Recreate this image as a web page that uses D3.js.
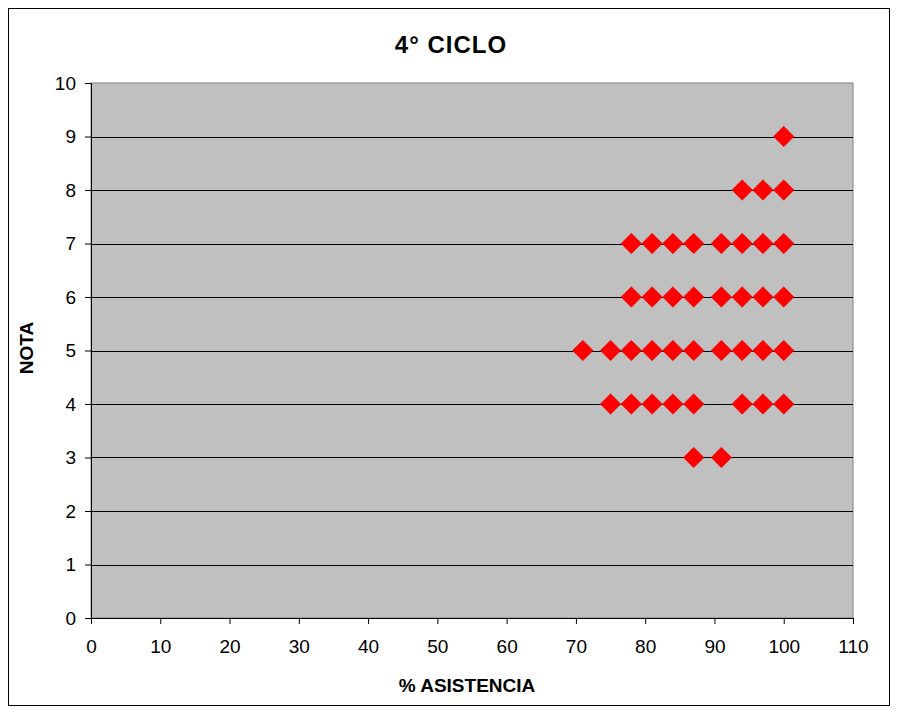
<!DOCTYPE html>
<html>
<head>
<meta charset="utf-8">
<script src="https://cdn.jsdelivr.net/npm/d3@7"></script>
<style>
  body { margin: 0; background: #fff; }
  text { font-family: Arial, "Liberation Sans", sans-serif; }
</style>
</head>
<body>
<script>
// datos: % asistencia y nota
const asistencia = [100, 94, 97, 100,
  78, 81, 84, 87, 91, 94, 97, 100,
  78, 81, 84, 87, 91, 94, 97, 100,
  71, 75, 78, 81, 84, 87, 91, 94, 97, 100,
  75, 78, 81, 84, 87, 94, 97, 100,
  87, 91];
const nota = [9, 8, 8, 8,
  7, 7, 7, 7, 7, 7, 7, 7,
  6, 6, 6, 6, 6, 6, 6, 6,
  5, 5, 5, 5, 5, 5, 5, 5, 5, 5,
  4, 4, 4, 4, 4, 4, 4, 4,
  3, 3];
const xTicks = [0, 10, 20, 30, 40, 50, 60, 70, 80, 90, 100, 110];
const yTicks = [0, 1, 2, 3, 4, 5, 6, 7, 8, 9, 10];

const width = 898, height = 709;
const plotL = 91, plotR = 853, plotT = 83, plotB = 618;

const svg = d3.select("body").append("svg")
    .attr("width", width)
    .attr("height", height);

// borde exterior
svg.append("rect")
    .attr("x", 8.5).attr("y", 8.5)
    .attr("width", 881).attr("height", 697)
    .attr("fill", "#fff")
    .attr("stroke", "#000")
    .attr("stroke-width", 1);

const x = d3.scaleLinear().domain([0, 110]).range([plotL, plotR]);
const y = d3.scaleLinear().domain([0, 10]).range([plotB, plotT]);

// area del grafico
svg.append("rect")
    .attr("x", plotL).attr("y", plotT)
    .attr("width", plotR - plotL).attr("height", plotB - plotT)
    .attr("fill", "#c0c0c0")
    .attr("stroke", "#808080")
    .attr("stroke-width", 1);

// lineas de division
svg.append("g")
    .selectAll("line")
    .data(yTicks.filter(d => d > 0 && d < 10))
    .join("line")
    .attr("x1", plotL).attr("x2", plotR)
    .attr("y1", d => Math.round(y(d)) + 0.5)
    .attr("y2", d => Math.round(y(d)) + 0.5)
    .attr("stroke", "#000")
    .attr("stroke-width", 1);

// ejes
const xAxis = svg.append("g")
    .attr("transform", `translate(0,${plotB})`)
    .call(d3.axisBottom(x).tickValues(xTicks).tickSize(6).tickPadding(16).tickFormat(d3.format("d")));
const yAxis = svg.append("g")
    .attr("transform", `translate(${plotL},0)`)
    .call(d3.axisLeft(y).tickValues(yTicks).tickSize(6).tickPadding(9).tickFormat(d3.format("d")));

[xAxis, yAxis].forEach(a => {
  a.select(".domain").attr("stroke", "#000");
  a.selectAll(".tick line").attr("stroke", "#000");
  a.selectAll(".tick text")
      .attr("fill", "#000")
      .style("font-size", "19px")
      .style("font-family", "Arial, 'Liberation Sans', sans-serif");
});

// puntos
svg.append("g")
    .selectAll("path")
    .data(asistencia.map((a, i) => [a, nota[i]]))
    .join("path")
    .attr("d", d3.symbol(d3.symbolSquare, 210))
    .attr("transform", d => `translate(${x(d[0])},${y(d[1])}) rotate(45)`)
    .attr("fill", "#ff0000")
    .attr("stroke", "#e00000")
    .attr("stroke-width", 0.5);

// titulos
svg.append("text")
    .attr("x", 451).attr("y", 53)
    .attr("text-anchor", "middle")
    .style("font-size", "24px")
    .style("font-weight", "bold")
    .style("letter-spacing", "1px")
    .text("4° CICLO");

svg.append("text")
    .attr("x", 467).attr("y", 692)
    .attr("text-anchor", "middle")
    .style("font-size", "19px")
    .style("font-weight", "bold")
    .text("% ASISTENCIA");

svg.append("text")
    .attr("transform", "translate(33,348) rotate(-90)")
    .attr("text-anchor", "middle")
    .style("font-size", "19px")
    .style("font-weight", "bold")
    .text("NOTA");
</script>
</body>
</html>
